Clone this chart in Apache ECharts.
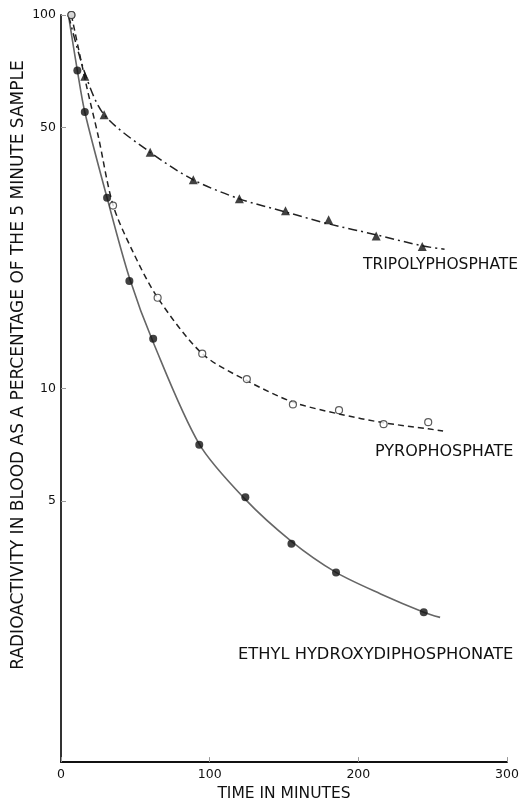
<!DOCTYPE html>
<html>
<head>
<meta charset="utf-8">
<script src="https://cdn.jsdelivr.net/npm/echarts@6/dist/echarts.min.js"></script>
<style>html,body{margin:0;padding:0;background:#fff;}#c{width:530px;height:807px;}</style>
</head>
<body>
<div id="c"></div>
<script>
// Data points (time in minutes, % of 5-minute sample)
var ethylT = [7, 11, 16, 31, 46, 62, 93, 124, 155, 185, 244];
var ethylV = [100, 71, 55, 32.4, 19.4, 13.6, 7.07, 5.12, 3.84, 3.22, 2.52];
var pyroT = [7, 35, 65, 95, 125, 156, 187, 217, 247];
var pyroV = [100, 30.9, 17.5, 12.4, 10.6, 9.07, 8.75, 8.03, 8.13];
var tripT = [16, 29, 60, 89, 120, 151, 180, 212, 243];
var tripV = [68.6, 54.1, 42.9, 36.2, 32.2, 29.9, 28.3, 25.6, 24.0];
// Fitted curves
var ethylCurveT = [5, 11, 16, 31, 46, 62, 93, 124, 155, 185, 215, 244, 255];
var ethylCurveV = [100, 71, 55, 32.4, 19.8, 13.3, 7.1, 5.05, 3.9, 3.22, 2.82, 2.52, 2.44];
var pyroCurveT = [7, 17, 25, 35, 48, 65, 95, 125, 156, 187, 217, 247, 257];
var pyroCurveV = [100, 65, 47.5, 31, 23.4, 17.5, 12.4, 10.5, 9.2, 8.55, 8.1, 7.8, 7.7];
var tripCurveT = [5, 16, 29, 60, 89, 120, 151, 180, 212, 243, 258];
var tripCurveV = [100, 70, 54.1, 42.9, 36.2, 32.2, 29.7, 27.6, 25.8, 24.1, 23.6];
var yTicks = [5, 10, 50, 100];
var xTicks = [0, 100, 200, 300];
var yTitle = 'RADIOACTIVITY IN BLOOD AS A PERCENTAGE OF THE 5 MINUTE SAMPLE';
var xTitle = 'TIME IN MINUTES';

function pairs(t, v) { return t.map(function (x, i) { return [x, v[i]]; }); }

var FONT = 'DejaVu Sans';
var chart = echarts.init(document.getElementById('c'), null, { renderer: 'canvas' });
chart.setOption({
  animation: false,
  backgroundColor: '#fff',
  textStyle: { fontFamily: FONT },
  grid: { left: 61, right: 23, top: 15, bottom: 38, containLabel: false },
  xAxis: {
    type: 'value', min: 0, max: 300, interval: 100,
    name: xTitle, nameLocation: 'middle', nameGap: 23,
    nameTextStyle: { fontFamily: FONT, fontSize: 15.5, color: '#111' },
    axisLine: { show: true, lineStyle: { color: '#111', width: 2 } },
    axisTick: { show: true, inside: true, length: 5, lineStyle: { color: '#999', width: 1 } },
    axisLabel: { fontFamily: FONT, fontSize: 12.5, color: '#111', margin: 6,
      formatter: function (v) { return xTicks.indexOf(v) >= 0 ? String(v) : ''; } },
    splitLine: { show: false }
  },
  yAxis: {
    type: 'log', logBase: 10, min: 1, max: 100,
    axisLine: { show: true, lineStyle: { color: '#333', width: 2 } },
    axisTick: { show: true, inside: true, length: 5, customValues: yTicks, lineStyle: { color: '#999', width: 1 } },
    axisLabel: { fontFamily: FONT, fontSize: 12.5, color: '#111', margin: 5, customValues: yTicks },
    splitLine: { show: false }
  },
  series: [
    { type: 'line', name: 'ethylCurve', data: pairs(ethylCurveT, ethylCurveV), smooth: 0.3, showSymbol: false,
      lineStyle: { color: '#666', width: 1.6, type: 'solid' }, z: 2 },
    { type: 'line', name: 'pyroCurve', data: pairs(pyroCurveT, pyroCurveV), smooth: 0.3, showSymbol: false,
      lineStyle: { color: '#222', width: 1.5, type: [6, 4] }, z: 2 },
    { type: 'line', name: 'tripCurve', data: pairs(tripCurveT, tripCurveV), smooth: 0.3, showSymbol: false,
      lineStyle: { color: '#222', width: 1.5, type: [9, 4, 2, 4] }, z: 2 },
    { type: 'scatter', name: 'ethyl', data: pairs(ethylT, ethylV), symbol: 'circle', symbolSize: 8,
      itemStyle: { color: '#111' }, z: 5 },
    { type: 'scatter', name: 'pyro', data: pairs(pyroT, pyroV), symbol: 'circle', symbolSize: 7,
      itemStyle: { color: '#fff', borderColor: '#333', borderWidth: 1.2 }, z: 6 },
    { type: 'scatter', name: 'trip', data: pairs(tripT, tripV), symbol: 'triangle', symbolSize: 9,
      itemStyle: { color: '#111' }, z: 5 }
  ],
  graphic: [
    { type: 'text', x: 19, y: 365, rotation: Math.PI / 2,
      style: { text: yTitle, font: '17px "DejaVu Sans"', fill: '#111', align: 'center', verticalAlign: 'middle' } },
    { type: 'text', left: 363, top: 257, style: { text: 'TRIPOLYPHOSPHATE', font: '15.5px "DejaVu Sans"', fill: '#111' } },
    { type: 'text', left: 375, top: 444, style: { text: 'PYROPHOSPHATE', font: '16px "DejaVu Sans"', fill: '#111' } },
    { type: 'text', left: 238, top: 647, style: { text: 'ETHYL HYDROXYDIPHOSPHONATE', font: '16.3px "DejaVu Sans"', fill: '#111' } }
  ]
});
</script>
</body>
</html>
